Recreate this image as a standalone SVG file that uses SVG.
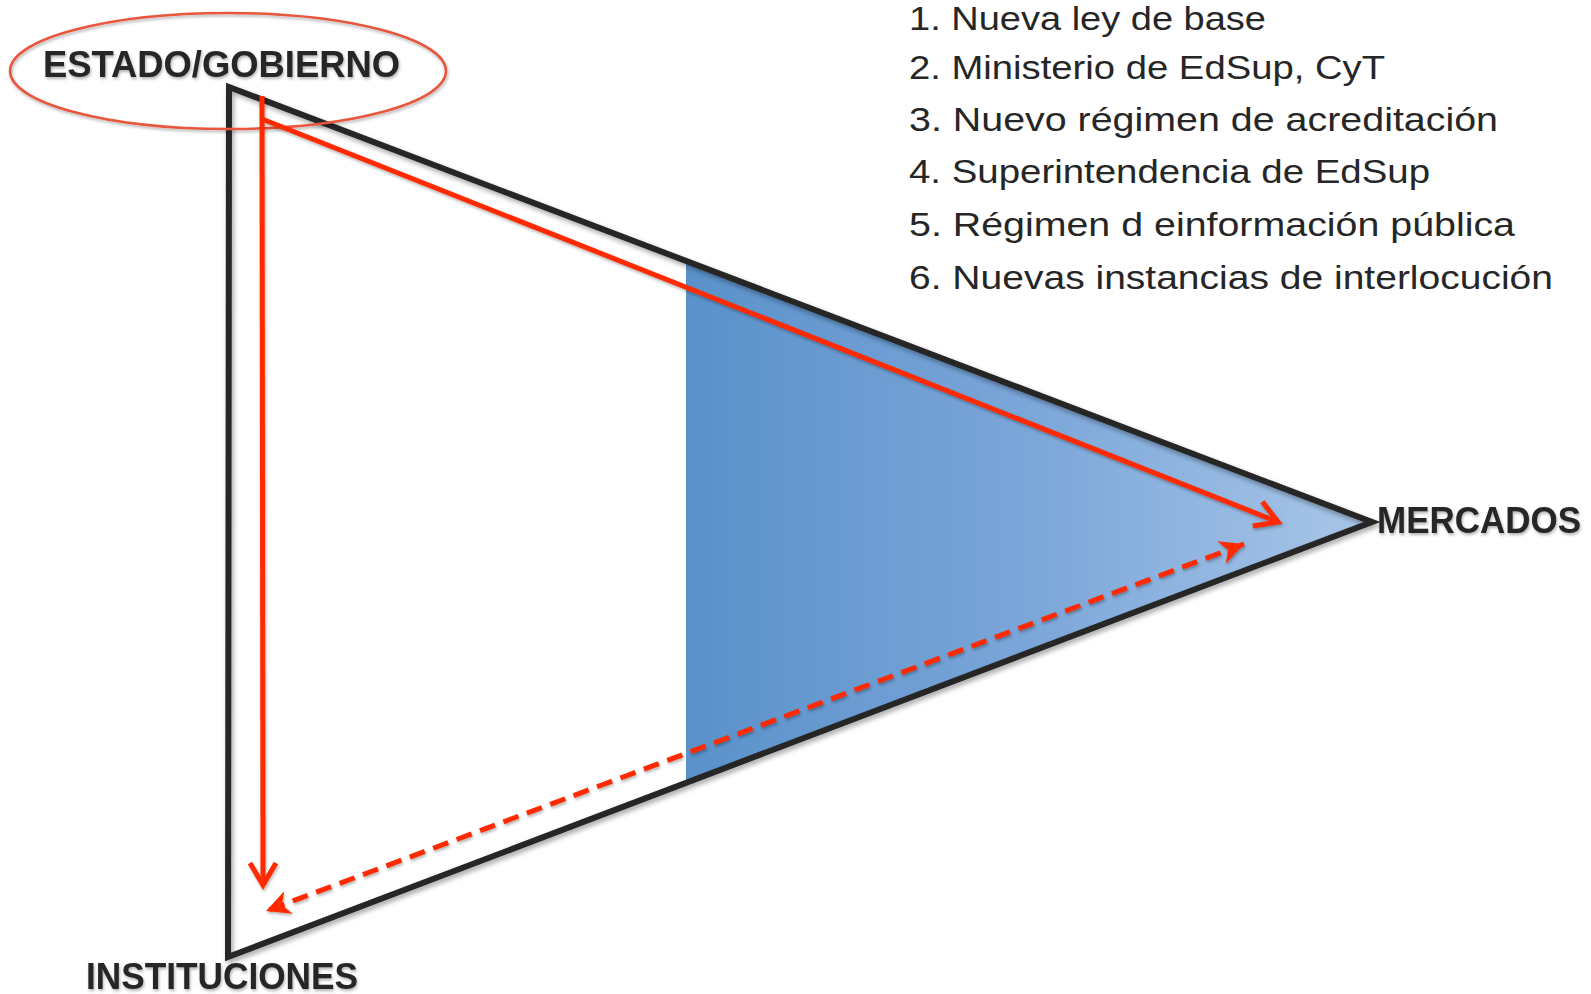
<svg xmlns="http://www.w3.org/2000/svg" width="1591" height="994" viewBox="0 0 1591 994">
  <style>
    .label { font-family: "Liberation Sans", Arial, sans-serif; font-weight: bold; font-size: 36px; fill: #262626; }
    .item { font-family: "Liberation Sans", Arial, sans-serif; font-size: 33px; fill: #262626; }
    .red { stroke: #ff2a00; fill: none; stroke-width: 5; }
  </style>
  <defs>
    <linearGradient id="blueGrad" x1="686" y1="0" x2="1372" y2="0" gradientUnits="userSpaceOnUse">
      <stop offset="0" stop-color="#5a91ca"/>
      <stop offset="0.5" stop-color="#7ba6d9"/>
      <stop offset="1" stop-color="#a9c6e8"/>
    </linearGradient>
    <filter id="shadow" x="-10%" y="-10%" width="120%" height="120%">
      <feDropShadow dx="2" dy="3" stdDeviation="2.5" flood-color="#000" flood-opacity="0.35"/>
    </filter>
    <filter id="tshadow" x="-5%" y="-20%" width="110%" height="140%">
      <feDropShadow dx="1" dy="2" stdDeviation="1.5" flood-color="#000" flood-opacity="0.3"/>
    </filter>
    <marker id="chev" markerUnits="userSpaceOnUse" viewBox="-30 -20 40 40" markerWidth="40" markerHeight="40" refX="0" refY="0" orient="auto">
      <path d="M-22,-13 L0,0 L-22,13" fill="none" stroke="#ff2a00" stroke-width="5" stroke-linejoin="miter"/>
    </marker>
    <marker id="dashHead" markerUnits="userSpaceOnUse" viewBox="-30 -20 40 40" markerWidth="40" markerHeight="40" refX="0" refY="0" orient="auto-start-reverse">
      <path d="M0,0 L-24,-12 L-17,0 L-24,12 Z" fill="#ff2a00"/>
    </marker>
  </defs>

  <rect width="1591" height="994" fill="#ffffff"/>

  <g id="triangle">
    <polygon points="686,261 1372,522 686,783" fill="url(#blueGrad)"/>
    <polygon points="229,87 1372,522 228,957" fill="none" stroke="#262626" stroke-width="6" stroke-linejoin="miter" stroke-miterlimit="20" filter="url(#shadow)"/>
  </g>

  <g id="estado-gobierno">
    <ellipse cx="228" cy="71" rx="218" ry="58" fill="none" stroke="#e8563c" stroke-width="2.5" filter="url(#tshadow)"/>
    <text class="label" x="43" y="77" textLength="357" lengthAdjust="spacingAndGlyphs" filter="url(#tshadow)">ESTADO/GOBIERNO</text>
  </g>

  <g id="mercados">
    <text class="label" x="1377" y="533" textLength="204" lengthAdjust="spacingAndGlyphs" filter="url(#tshadow)">MERCADOS</text>
  </g>

  <g id="instituciones">
    <text class="label" x="86" y="989" textLength="272" lengthAdjust="spacingAndGlyphs" filter="url(#tshadow)">INSTITUCIONES</text>
  </g>

  <g id="lista">
    <text class="item" x="909" y="30" textLength="357" lengthAdjust="spacingAndGlyphs">1. Nueva ley de base</text>
    <text class="item" x="909" y="79" textLength="476" lengthAdjust="spacingAndGlyphs">2. Ministerio de EdSup, CyT</text>
    <text class="item" x="909" y="131" textLength="589" lengthAdjust="spacingAndGlyphs">3. Nuevo régimen de acreditación</text>
    <text class="item" x="909" y="183" textLength="521" lengthAdjust="spacingAndGlyphs">4. Superintendencia de EdSup</text>
    <text class="item" x="909" y="236" textLength="606" lengthAdjust="spacingAndGlyphs">5. Régimen d einformación pública</text>
    <text class="item" x="909" y="289" textLength="644" lengthAdjust="spacingAndGlyphs">6. Nuevas instancias de interlocución</text>
  </g>

  <g id="connectors" filter="url(#tshadow)">
    <line class="red" x1="262" y1="96" x2="263" y2="885" marker-end="url(#chev)"/>
    <line class="red" x1="262" y1="119" x2="1278" y2="522" marker-end="url(#chev)"/>
    <line class="red" x1="1244" y1="544" x2="266" y2="911" stroke-width="4.5" stroke-dasharray="16,9" marker-start="url(#dashHead)" marker-end="url(#dashHead)"/>
  </g>
</svg>
